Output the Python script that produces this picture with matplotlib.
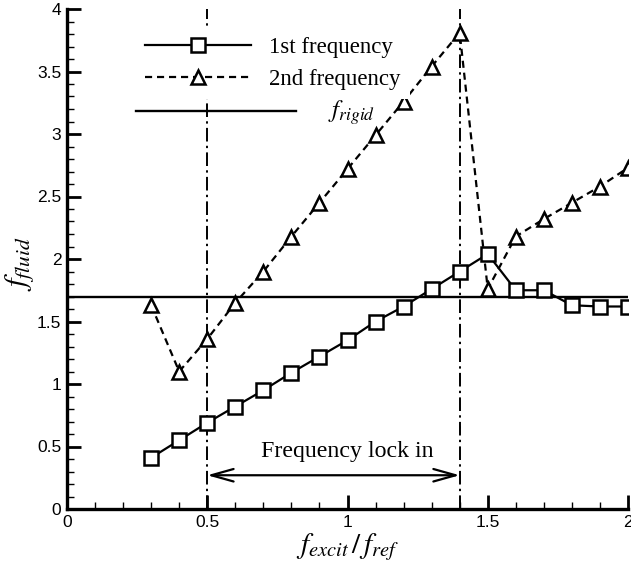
import matplotlib
matplotlib.use("Agg")
import matplotlib.pyplot as plt
from matplotlib.ticker import MultipleLocator

plt.rcParams['font.family'] = ['Liberation Sans', 'DejaVu Sans']
plt.rcParams['mathtext.fontset'] = 'stix'

# ---- data ----
x_ratio = [0.3, 0.4, 0.5, 0.6, 0.7, 0.8, 0.9, 1.0, 1.1, 1.2, 1.3, 1.4,
           1.5, 1.6, 1.7, 1.8, 1.9, 2.0]
f_first = [0.41, 0.55, 0.69, 0.82, 0.95, 1.09, 1.22, 1.35, 1.50, 1.62, 1.76, 1.90,
           2.04, 1.75, 1.75, 1.63, 1.62, 1.62]
f_second = [1.63, 1.10, 1.36, 1.65, 1.90, 2.18, 2.45, 2.72, 2.99, 3.26, 3.54, 3.81,
            1.76, 2.18, 2.32, 2.45, 2.58, 2.73]
f_rigid = 1.70
lock_in = [0.5, 1.4]
arrow_y = 0.27
lock_label = "Frequency lock in"
lock_label_pos = (1.0, 0.46)
labels = ["1st frequency", "2nd frequency"]
xticks = [0, 0.5, 1, 1.5, 2]
xticklabels = ["0", "0.5", "1", "1.5", "2"]
yticks = [0, 0.5, 1, 1.5, 2, 2.5, 3, 3.5, 4]
yticklabels = ["0", "0.5", "1", "1.5", "2", "2.5", "3", "3.5", "4"]

fig = plt.figure(figsize=(6.31, 5.65), dpi=100)
ax = fig.add_axes([67/631, 1 - 509/565, (628-67)/631, 500/565])

serif = 'Liberation Serif'

ax.axhline(f_rigid, color='black', lw=1.7, zorder=2)
for xv in lock_in:
    ax.axvline(xv, color='black', lw=1.4, dashes=(7, 2.2, 1.2, 2.2), zorder=1)

l1, = ax.plot(x_ratio, f_first, color='black', lw=1.6, marker='s', ms=10,
              mfc='white', mec='black', mew=1.8, zorder=4)
l2, = ax.plot(x_ratio, f_second, color='black', lw=1.6, dashes=(3.2, 2.2),
              marker='^', ms=10.5, mfc='white', mec='black', mew=1.8, zorder=3)

ax.annotate('', xy=(lock_in[1], arrow_y), xytext=(lock_in[0], arrow_y),
            arrowprops=dict(arrowstyle='<->,head_length=1.6,head_width=0.45',
                            color='black', lw=1.6, shrinkA=0, shrinkB=0))
ax.text(lock_label_pos[0], lock_label_pos[1], lock_label, family=serif,
        fontsize=17.2, ha='center', va='center')

leg = ax.legend([l1, l2], labels, loc='upper left',
                bbox_to_anchor=(0.123, 0.962), borderaxespad=0,
                prop={'family': serif, 'size': 16.5}, handlelength=4.6,
                handletextpad=0.8, labelspacing=0.45, borderpad=0.4,
                frameon=True, fancybox=False, framealpha=1)
leg.get_frame().set_edgecolor('none')
leg.get_frame().set_facecolor('white')
leg.set_zorder(5)

ax.plot([0.123, 0.408], [0.796, 0.796], transform=ax.transAxes, color='black',
        lw=1.7, clip_on=False, zorder=6)
ax.text(0.465, 0.792, r'$f_{rigid}$', transform=ax.transAxes, fontsize=18,
        va='center', ha='left', zorder=6)

ax.set_xlim(0, 2)
ax.set_ylim(0, 4)
ax.set_xticks(xticks)
ax.set_xticklabels(xticklabels)
ax.set_yticks(yticks)
ax.set_yticklabels(yticklabels)
ax.xaxis.set_minor_locator(MultipleLocator(0.1))
ax.yaxis.set_minor_locator(MultipleLocator(0.1))
ax.tick_params(which='major', direction='in', length=10, width=2,
               labelsize=12.5, pad=4, top=False, right=False)
ax.tick_params(which='minor', direction='in', length=5, width=1,
               top=False, right=False)
for side in ['top', 'right']:
    ax.spines[side].set_visible(False)
for side in ['left', 'bottom']:
    ax.spines[side].set_linewidth(2.4)

ax.set_xlabel(r'$f_{excit}\,/\,f_{ref}$', fontsize=21, labelpad=1)
ax.set_ylabel(r'$f_{fluid}$', fontsize=22, labelpad=1)
ax.yaxis.set_label_coords(-0.055, 0.49)

fig.savefig('out.png', dpi=100)
